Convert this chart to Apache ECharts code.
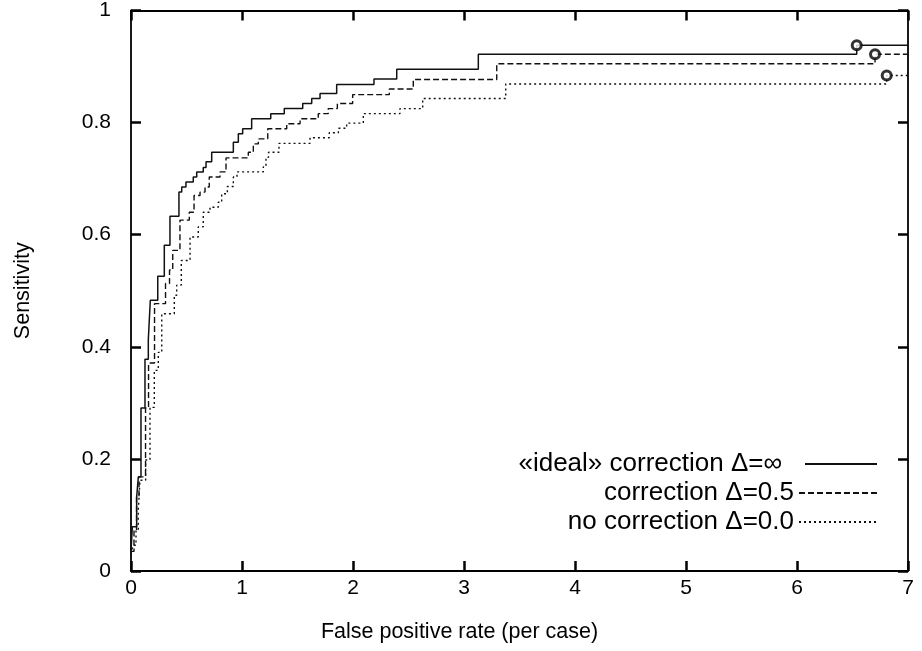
<!DOCTYPE html>
<html><head><meta charset="utf-8">
<script src="https://cdn.jsdelivr.net/npm/echarts@6.0.0/dist/echarts.min.js"></script>
<style>html,body{margin:0;padding:0;background:#fff}#c{width:922px;height:651px}</style>
</head><body><div id="c"></div>
<script>
// ---- data ----
const xAxisTitle = 'False positive rate (per case)';
const yAxisTitle = 'Sensitivity';
const seriesNames = ['«ideal» correction Δ=∞', 'correction Δ=0.5', 'no correction Δ=0.0'];

// [false positives per case, sensitivity] at each step
const idealCurve = [
  [0,0.035],[0.012,0.079],[0.051,0.132],[0.066,0.168],[0.090,0.291],[0.126,0.378],
  [0.156,0.413],[0.174,0.483],[0.241,0.526],[0.300,0.581],[0.351,0.633],[0.432,0.676],
  [0.457,0.685],[0.495,0.694],[0.561,0.703],[0.592,0.712],[0.651,0.720],[0.676,0.730],
  [0.727,0.747],[0.922,0.765],[0.967,0.780],[1.006,0.789],[1.087,0.807],[1.259,0.816],
  [1.381,0.825],[1.547,0.834],[1.628,0.843],[1.703,0.852],[1.853,0.868],[2.189,0.878],
  [2.394,0.895],[3.129,0.922],[6.538,0.938],[7,0.938]
];
const halfCurve = [
  [0,0.035],[0.027,0.073],[0.050,0.132],[0.072,0.168],[0.131,0.291],[0.158,0.371],
  [0.212,0.477],[0.311,0.513],[0.347,0.537],[0.376,0.572],[0.441,0.626],[0.525,0.640],
  [0.568,0.670],[0.622,0.676],[0.667,0.685],[0.705,0.703],[0.802,0.712],[0.856,0.737],
  [1.057,0.747],[1.102,0.762],[1.147,0.771],[1.232,0.789],[1.403,0.798],[1.523,0.807],
  [1.687,0.816],[1.777,0.825],[1.859,0.834],[1.997,0.850],[2.327,0.860],[2.543,0.877],
  [3.295,0.905],[6.703,0.922],[7,0.922]
];
const noneCurve = [
  [0,0.030],[0.018,0.046],[0.045,0.073],[0.066,0.109],[0.081,0.162],[0.132,0.198],
  [0.171,0.292],[0.210,0.358],[0.246,0.390],[0.277,0.459],[0.390,0.492],[0.412,0.510],
  [0.453,0.554],[0.532,0.596],[0.606,0.614],[0.651,0.640],[0.712,0.649],[0.786,0.658],
  [0.817,0.673],[0.868,0.686],[0.922,0.703],[0.955,0.712],[1.192,0.721],[1.216,0.738],
  [1.239,0.747],[1.333,0.763],[1.613,0.773],[1.786,0.782],[1.868,0.790],[1.943,0.799],
  [2.093,0.816],[2.423,0.825],[2.628,0.843],[3.376,0.869],[6.808,0.884],[7,0.884]
];
// operating points marked with circles
const endPoints = [[6.538,0.938],[6.703,0.922],[6.808,0.884]];

const xMin = 0, xMax = 7, xStep = 1;
const yMin = 0, yMax = 1, yStep = 0.2;

// ---- chart ----
const FONT = '"Liberation Sans", Arial, Helvetica, sans-serif';
const black = '#000000';
function mkLine(){ return {show:true, onZero:false, lineStyle:{color:black, width:1.8}}; }
function mkTick(){ return {show:true, inside:true, length:10, lineStyle:{color:black, width:2.5}}; }
function lbl(size){ return {color:black, fontSize:size, fontFamily:FONT}; }

const chart = echarts.init(document.getElementById('c'), null, {renderer:'canvas'});
const lineStyles = [
  {color:'#111', width:1.5, type:'solid'},
  {color:'#111', width:1.4, type:[6,3]},
  {color:'#111', width:1.4, type:[2,3]}
];
const curves = [idealCurve, halfCurve, noneCurve];

const legends = seriesNames.map((n,i)=>({
  data:[n], orient:'vertical', right:44, top:451 + i*29, align:'right', padding:0,
  itemWidth: i===0 ? 72 : 78, itemHeight:16, selectedMode:false,
  itemStyle:{opacity:0},
  textStyle:{color:black, fontSize:26, fontFamily:FONT, padding: i===0 ? [0,18,0,0] : [0,0,0,0]}
}));

chart.setOption({
  animation:false,
  backgroundColor:'#fff',
  grid:{left:131, right:14, top:9.5, bottom:80, containLabel:false},
  legend: legends,
  xAxis:[
    {type:'value', position:'bottom', min:xMin, max:xMax, interval:xStep,
     axisLine:mkLine(), axisTick:mkTick(), splitLine:{show:false},
     axisLabel:Object.assign({margin:7}, lbl(21)),
     name:xAxisTitle, nameLocation:'middle', nameGap:50,
     nameTextStyle:Object.assign({padding:[0,120,0,0]}, lbl(21.5))},
    {type:'value', position:'top', min:xMin, max:xMax, interval:xStep,
     axisLine:mkLine(), axisTick:mkTick(), splitLine:{show:false}, axisLabel:{show:false}}
  ],
  yAxis:[
    {type:'value', position:'left', min:yMin, max:yMax, interval:yStep,
     axisLine:mkLine(), axisTick:mkTick(), splitLine:{show:false},
     axisLabel:Object.assign({margin:20}, lbl(21)),
     name:yAxisTitle, nameLocation:'middle', nameGap:97,
     nameTextStyle:lbl(21.5)},
    {type:'value', position:'right', min:yMin, max:yMax, interval:yStep,
     axisLine:mkLine(), axisTick:mkTick(), splitLine:{show:false}, axisLabel:{show:false}}
  ],
  series: curves.map((d,i)=>({
    name:seriesNames[i], type:'line', step:'end', data:d,
    symbol:'none', showSymbol:false, lineStyle:lineStyles[i],
    itemStyle:{color:'#111'}, z:2
  })).concat([{
    name:'markers', type:'scatter', data:endPoints, symbol:'circle', symbolSize:9,
    itemStyle:{color:'#fff', borderColor:'#000', borderWidth:3}, z:5
  }])
});
</script></body></html>
